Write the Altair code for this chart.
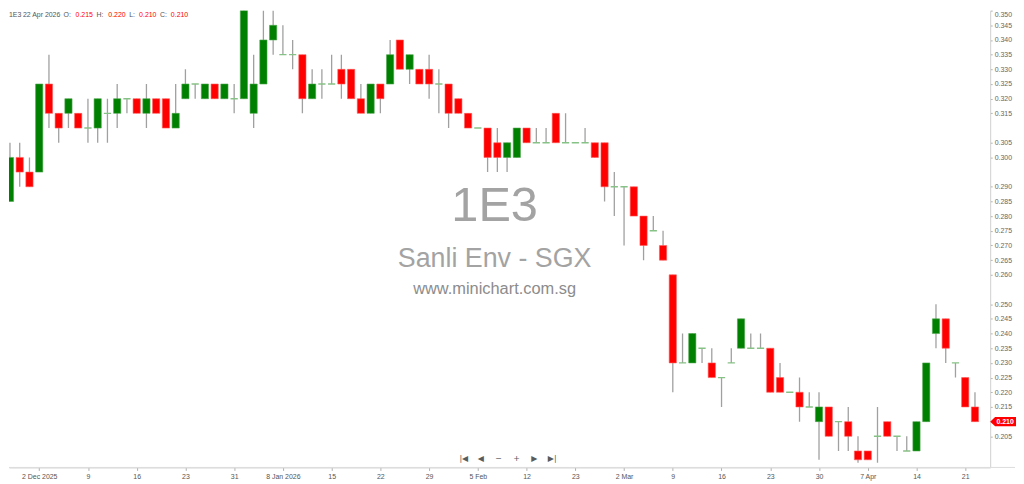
import json
import altair as alt
import pandas as pd

# ---------------- data ----------------
dates = [
    "2025-11-27", "2025-11-28", "2025-12-01", "2025-12-02", "2025-12-03", "2025-12-04", "2025-12-05",
    "2025-12-08", "2025-12-09", "2025-12-10", "2025-12-11", "2025-12-12", "2025-12-15", "2025-12-16",
    "2025-12-17", "2025-12-18", "2025-12-19", "2025-12-22", "2025-12-23", "2025-12-24", "2025-12-26",
    "2025-12-29", "2025-12-30", "2025-12-31", "2026-01-02", "2026-01-05", "2026-01-06", "2026-01-07",
    "2026-01-08", "2026-01-09", "2026-01-12", "2026-01-13", "2026-01-14", "2026-01-15", "2026-01-16",
    "2026-01-19", "2026-01-20", "2026-01-21", "2026-01-22", "2026-01-23", "2026-01-26", "2026-01-27",
    "2026-01-28", "2026-01-29", "2026-01-30", "2026-02-02", "2026-02-03", "2026-02-04", "2026-02-05",
    "2026-02-06", "2026-02-09", "2026-02-10", "2026-02-11", "2026-02-12", "2026-02-13", "2026-02-16",
    "2026-02-19", "2026-02-20", "2026-02-23", "2026-02-24", "2026-02-25", "2026-02-26", "2026-02-27",
    "2026-03-02", "2026-03-03", "2026-03-04", "2026-03-05", "2026-03-06", "2026-03-09", "2026-03-10",
    "2026-03-11", "2026-03-12", "2026-03-13", "2026-03-16", "2026-03-17", "2026-03-18", "2026-03-19",
    "2026-03-20", "2026-03-23", "2026-03-24", "2026-03-25", "2026-03-26", "2026-03-27", "2026-03-30",
    "2026-03-31", "2026-04-01", "2026-04-02", "2026-04-06", "2026-04-07", "2026-04-08", "2026-04-09",
    "2026-04-10", "2026-04-13", "2026-04-14", "2026-04-15", "2026-04-16", "2026-04-17", "2026-04-20",
    "2026-04-21", "2026-04-22",
]
opens = [
    0.285, 0.300, 0.295, 0.295, 0.325, 0.315, 0.315, 0.315, 0.310, 0.310,
    0.315, 0.315, 0.320, 0.320, 0.315, 0.320, 0.320, 0.310, 0.320, 0.325,
    0.320, 0.325, 0.320, 0.320, 0.320, 0.315, 0.325, 0.340, 0.335, 0.335,
    0.335, 0.320, 0.325, 0.325, 0.330, 0.330, 0.320, 0.315, 0.325, 0.325,
    0.340, 0.330, 0.330, 0.330, 0.325, 0.325, 0.320, 0.315, 0.310, 0.310,
    0.305, 0.300, 0.300, 0.310, 0.305, 0.305, 0.315, 0.305, 0.305, 0.305,
    0.305, 0.305, 0.290, 0.290, 0.290, 0.280, 0.275, 0.270, 0.260, 0.230,
    0.230, 0.235, 0.230, 0.225, 0.230, 0.235, 0.235, 0.235, 0.235, 0.225,
    0.220, 0.220, 0.215, 0.210, 0.215, 0.210, 0.210, 0.200, 0.200, 0.205,
    0.210, 0.205, 0.200, 0.200, 0.210, 0.240, 0.245, 0.230, 0.225, 0.215,
]
highs = [
    0.305, 0.305, 0.300, 0.325, 0.335, 0.315, 0.320, 0.315, 0.320, 0.320,
    0.320, 0.325, 0.320, 0.320, 0.325, 0.320, 0.320, 0.325, 0.330, 0.325,
    0.325, 0.325, 0.325, 0.325, 0.350, 0.335, 0.350, 0.350, 0.345, 0.340,
    0.335, 0.330, 0.330, 0.335, 0.335, 0.330, 0.325, 0.325, 0.325, 0.340,
    0.340, 0.335, 0.330, 0.335, 0.330, 0.325, 0.320, 0.315, 0.310, 0.310,
    0.310, 0.305, 0.310, 0.310, 0.310, 0.310, 0.315, 0.315, 0.305, 0.310,
    0.305, 0.305, 0.295, 0.290, 0.290, 0.280, 0.280, 0.275, 0.260, 0.240,
    0.240, 0.235, 0.235, 0.225, 0.235, 0.245, 0.240, 0.240, 0.235, 0.230,
    0.220, 0.225, 0.220, 0.220, 0.215, 0.210, 0.215, 0.205, 0.200, 0.215,
    0.210, 0.205, 0.205, 0.210, 0.230, 0.250, 0.245, 0.230, 0.225, 0.220,
]
lows = [
    0.285, 0.290, 0.290, 0.295, 0.310, 0.305, 0.310, 0.310, 0.305, 0.305,
    0.305, 0.310, 0.315, 0.315, 0.310, 0.315, 0.310, 0.310, 0.320, 0.320,
    0.320, 0.320, 0.320, 0.315, 0.320, 0.310, 0.325, 0.335, 0.335, 0.330,
    0.315, 0.320, 0.320, 0.325, 0.320, 0.320, 0.315, 0.315, 0.315, 0.325,
    0.330, 0.325, 0.325, 0.320, 0.315, 0.310, 0.315, 0.310, 0.310, 0.295,
    0.295, 0.295, 0.300, 0.305, 0.305, 0.305, 0.305, 0.305, 0.305, 0.305,
    0.300, 0.285, 0.280, 0.270, 0.280, 0.265, 0.275, 0.265, 0.220, 0.230,
    0.230, 0.230, 0.225, 0.215, 0.230, 0.235, 0.235, 0.235, 0.220, 0.220,
    0.220, 0.210, 0.215, 0.197, 0.205, 0.200, 0.200, 0.196, 0.197, 0.196,
    0.205, 0.200, 0.200, 0.200, 0.210, 0.235, 0.230, 0.225, 0.215, 0.210,
]
closes = [
    0.300, 0.295, 0.290, 0.325, 0.315, 0.310, 0.320, 0.310, 0.310, 0.320,
    0.315, 0.320, 0.320, 0.315, 0.320, 0.315, 0.310, 0.315, 0.325, 0.325,
    0.325, 0.320, 0.325, 0.320, 0.350, 0.325, 0.340, 0.345, 0.335, 0.335,
    0.320, 0.325, 0.325, 0.325, 0.325, 0.320, 0.315, 0.325, 0.320, 0.335,
    0.330, 0.335, 0.325, 0.325, 0.325, 0.315, 0.315, 0.310, 0.310, 0.300,
    0.300, 0.305, 0.310, 0.305, 0.305, 0.305, 0.305, 0.305, 0.305, 0.305,
    0.300, 0.290, 0.290, 0.290, 0.280, 0.270, 0.275, 0.265, 0.230, 0.230,
    0.240, 0.235, 0.225, 0.225, 0.230, 0.245, 0.235, 0.235, 0.220, 0.220,
    0.220, 0.215, 0.215, 0.215, 0.205, 0.210, 0.205, 0.197, 0.197, 0.205,
    0.205, 0.205, 0.200, 0.210, 0.230, 0.245, 0.235, 0.230, 0.215, 0.210,
]

# x-axis tick positions (trading-day index) and their labels
tick_idx = [3, 8, 13, 18, 23, 28, 33, 38, 43, 48, 53, 58, 63, 68, 73, 78, 83, 88, 93, 98]
tick_labels = ["2 Dec 2025", "9", "16", "23", "31", "8 Jan 2026", "15", "22", "29", "5 Feb",
               "12", "23", "2 Mar", "9", "16", "23", "30", "7 Apr", "14", "21"]

# right-axis price labels shown in the reference
y_ticks = [0.205, 0.215, 0.220, 0.225, 0.230, 0.235, 0.240, 0.245, 0.250,
           0.260, 0.265, 0.270, 0.275, 0.280, 0.285, 0.290,
           0.300, 0.305, 0.315, 0.320, 0.325, 0.330, 0.335, 0.340, 0.345, 0.350]

symbol = "1E3"
name_line = "Sanli Env - SGX"
site_line = "www.minichart.com.sg"

# ---------------- build table ----------------
df = pd.DataFrame({
    "i": list(range(len(dates))),
    "date": dates,
    "o": opens, "h": highs, "l": lows, "c": closes,
})
df["dir"] = ["up" if c > o else ("down" if c < o else "flat") for o, c in zip(opens, closes)]

W, H = 988, 460
GREEN, RED, DOJI, WICK = "#008000", "#ff0000", "#86c186", "#a0a0a0"
FONT = "Liberation Sans"

xscale = alt.Scale(domain=[-0.1, 100.56], nice=False, zero=False)
yscale = alt.Scale(domain=[0.19439, 0.350], nice=False, zero=False)

label_expr = "{}[indexof({}, datum.value)]".format(json.dumps(tick_labels).replace('"', "'"),
                                                    json.dumps(tick_idx))

x_axis = alt.Axis(values=tick_idx, labelExpr=label_expr, grid=False, title=None,
                  tickSize=3, labelFontSize=7, labelColor="#555555", labelFont=FONT,
                  domainColor="#d0d0d0", tickColor="#b0b0b0", labelPadding=2,
                  labelOverlap=False, labelFlush=False)
y_axis = alt.Axis(orient="right", values=y_ticks, format=".3f", grid=False, title=None,
                  tickSize=2, labelFontSize=7, labelColor="#666666", labelFont=FONT,
                  domainColor="#d0d0d0", tickColor="#b0b0b0", labelPadding=2,
                  labelOverlap=False, labelFlush=True)

base = alt.Chart(df)

wicks = base.mark_rule(color=WICK, strokeWidth=1.3, clip=True).encode(
    x=alt.X("i:Q", scale=xscale, axis=x_axis, title=None),
    y=alt.Y("l:Q", scale=yscale, axis=y_axis, title=None),
    y2="h:Q",
)

bodies = base.transform_filter("datum.o != datum.c").transform_calculate(
    x1="datum.i - 0.37", x2="datum.i + 0.37"
).mark_rect(clip=True, strokeWidth=0.6).encode(
    x=alt.X("x1:Q", scale=xscale, axis=x_axis, title=None),
    x2="x2:Q",
    y=alt.Y("o:Q", scale=yscale, axis=y_axis, title=None),
    y2="c:Q",
    color=alt.Color("dir:N", scale=alt.Scale(domain=["up", "down"], range=[GREEN, RED]), legend=None),
    stroke=alt.Stroke("dir:N", scale=alt.Scale(domain=["up", "down"], range=["#4da64d", "#ff5c5c"]), legend=None),
)

dojis = base.transform_filter("datum.o == datum.c").transform_calculate(
    x1="datum.i - 0.37", x2="datum.i + 0.37"
).mark_rule(color=DOJI, strokeWidth=1.4, clip=True).encode(
    x=alt.X("x1:Q", scale=xscale, axis=x_axis, title=None),
    x2="x2:Q",
    y=alt.Y("o:Q", scale=yscale, axis=y_axis, title=None),
)

one = pd.DataFrame({"k": [0]})

# bottom separator line continuing under the price axis
sep = alt.Chart(one).mark_rule(color="#dcdcdc", strokeWidth=1).encode(
    x=alt.value(0), x2=alt.value(1013), y=alt.value(H)
)


def text_at(txt, px, py, **kw):
    return alt.Chart(one).mark_text(font=FONT, **kw).encode(
        x=alt.value(px), y=alt.value(py), text=alt.value(txt)
    )


# header: symbol, date and OHLC of the last bar
last = df.iloc[-1]
last_date = pd.Timestamp(last["date"])
header_rows = [
    (symbol, 0, "#555555"),
    ("{} {} {}".format(last_date.day, last_date.strftime("%b"), last_date.year), 14, "#555555"),
    ("O:", 55, "#555555"), ("{:.3f}".format(last["o"]), 67, RED),
    ("H:", 88, "#555555"), ("{:.3f}".format(last["h"]), 100, RED),
    ("L:", 121, "#555555"), ("{:.3f}".format(last["l"]), 131, RED),
    ("C:", 152, "#555555"), ("{:.3f}".format(last["c"]), 163, RED),
]
header_layers = [text_at(t, px, 0, align="left", baseline="top", fontSize=7, color=col)
                 for t, px, col in header_rows]

# watermark
wm_layers = [
    text_at(symbol, 489, 212, align="center", baseline="alphabetic", fontSize=49, color="#a3a3a3"),
    text_at(name_line, 489, 258, align="center", baseline="alphabetic", fontSize=27, color="#a3a3a3"),
    text_at(site_line, 489, 285.5, align="center", baseline="alphabetic", fontSize=16.5, color="#8c8c8c"),
]

# navigation buttons
nav_layers = [
    alt.Chart(one).mark_text(font="DejaVu Sans", align="center", baseline="middle",
                             fontSize=8, color="#5a5a5a").encode(
        x=alt.value(px), y=alt.value(452), text=alt.value(t))
    for t, px in zip(["|◀", "◀", "−", "+", "▶", "▶|"], [458, 475, 493, 511, 529, 547])
]

# last price tag on the price axis
last_df = df.tail(1)
tag = alt.Chart(last_df).mark_point(
    shape="M-1,0L-0.62,-0.36L1,-0.36L1,0.36L-0.62,0.36Z", size=676, filled=True,
    color=RED, opacity=1, strokeWidth=0,
).encode(x=alt.value(W + 13), y=alt.Y("c:Q", scale=yscale, axis=y_axis, title=None))
tag_text = alt.Chart(last_df).mark_text(align="center", baseline="middle", fontSize=7,
                                        font=FONT, color="white", fontWeight="bold").encode(
    x=alt.value(W + 15), y=alt.Y("c:Q", scale=yscale, axis=y_axis, title=None),
    text=alt.Text("c:Q", format=".3f"),
)

chart = alt.layer(*wm_layers, sep, wicks, bodies, dojis, *header_layers, *nav_layers,
                  tag, tag_text).properties(
    width=W, height=H, padding={"left": 0, "top": 0, "right": 0, "bottom": 0}
).configure(background="white").configure_view(stroke=None)

chart.save("out.html", embed_options={"renderer": "svg", "actions": False})
